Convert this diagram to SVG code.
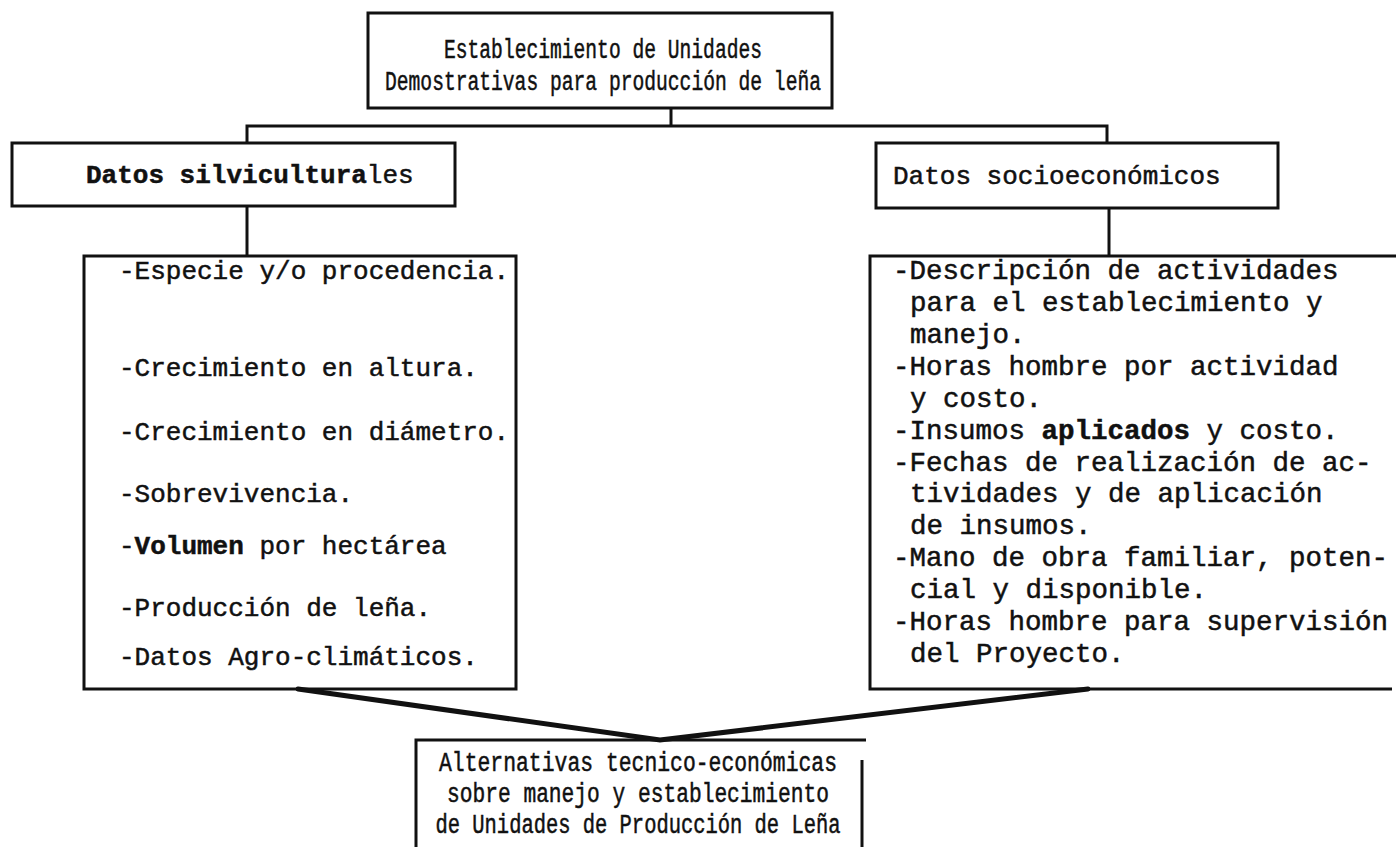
<svg xmlns="http://www.w3.org/2000/svg" width="1396" height="847" viewBox="0 0 1396 847">
<style>
  .box { fill: none; stroke: #111; stroke-width: 3; }
  .conn { fill: none; stroke: #111; stroke-width: 3; }
  .thick { fill: none; stroke: #111; stroke-width: 5; stroke-linecap: round; }
  .t { font-family: "Liberation Mono", "DejaVu Sans Mono", monospace; fill: #111; stroke: #111; stroke-width: 0.5; }
  .cond { font-size: 27px; }
  .lst { font-size: 26px; }
  .lstR { font-size: 27.5px; }
  .b { font-weight: bold; }
</style>
<rect width="1396" height="847" fill="#fff"/>

<g id="connectors">
  <line class="conn" x1="671" y1="108" x2="671" y2="126"/>
  <path class="conn" d="M247 143 L247 126 L1107 126 L1107 143"/>
  <line class="conn" x1="247" y1="206" x2="247" y2="256"/>
  <line class="conn" x1="1109" y1="208" x2="1109" y2="256"/>
  <path class="thick" d="M298 689 L660 740 L1088 689"/>
</g>

<g id="top">
  <rect class="box" x="368" y="13" width="464" height="95"/>
  <text class="t cond" x="603" y="58" text-anchor="middle" textLength="318" lengthAdjust="spacingAndGlyphs">Establecimiento de Unidades</text>
  <text class="t cond" x="603" y="90" text-anchor="middle" textLength="436" lengthAdjust="spacingAndGlyphs">Demostrativas para producción de leña</text>
</g>

<g id="silvi">
  <rect class="box" x="12" y="143" width="443" height="63"/>
  <text class="t lst" x="86" y="183"><tspan class="b">Datos silvicultura</tspan>les</text>
</g>

<g id="socio">
  <rect class="box" x="876" y="143" width="402" height="65"/>
  <text class="t lst" x="893" y="184">Datos socioeconómicos</text>
</g>

<g id="silvi-list">
  <rect class="box" x="84" y="256" width="432" height="433"/>
  <text class="t lst" x="119" y="279">-Especie y/o procedencia.</text>
  <text class="t lst" x="119" y="376">-Crecimiento en altura.</text>
  <text class="t lst" x="119" y="440">-Crecimiento en diámetro.</text>
  <text class="t lst" x="119" y="502">-Sobrevivencia.</text>
  <text class="t lst" x="119" y="554">-<tspan class="b">Volumen</tspan> por hectárea</text>
  <text class="t lst" x="119" y="616">-Producción de leña.</text>
  <text class="t lst" x="119" y="665">-Datos Agro-climáticos.</text>
</g>

<g id="socio-list">
  <path class="box" d="M1396 256 L870 256 L870 689 L1392 689"/>
  <text class="t lstR" x="893" y="279">-Descripción de actividades</text>
  <text class="t lstR" x="910" y="311">para el establecimiento y</text>
  <text class="t lstR" x="910" y="343">manejo.</text>
  <text class="t lstR" x="893" y="375">-Horas hombre por actividad</text>
  <text class="t lstR" x="910" y="407">y costo.</text>
  <text class="t lstR" x="893" y="439">-Insumos <tspan class="b">aplicados</tspan> y costo.</text>
  <text class="t lstR" x="893" y="471">-Fechas de realización de ac-</text>
  <text class="t lstR" x="910" y="502">tividades y de aplicación</text>
  <text class="t lstR" x="910" y="534">de insumos.</text>
  <text class="t lstR" x="893" y="566">-Mano de obra familiar, poten-</text>
  <text class="t lstR" x="910" y="598">cial y disponible.</text>
  <text class="t lstR" x="893" y="630">-Horas hombre para supervisión</text>
  <text class="t lstR" x="910" y="662">del Proyecto.</text>
</g>

<g id="result">
  <path class="box" d="M416 847 L416 740 L866 740"/>
  <line class="box" x1="862" y1="760" x2="862" y2="847"/>
  <text class="t cond" x="638" y="771" text-anchor="middle" textLength="398" lengthAdjust="spacingAndGlyphs">Alternativas tecnico-económicas</text>
  <text class="t cond" x="638" y="802" text-anchor="middle" textLength="382" lengthAdjust="spacingAndGlyphs">sobre manejo y establecimiento</text>
  <text class="t cond" x="638" y="833" text-anchor="middle" textLength="405" lengthAdjust="spacingAndGlyphs">de Unidades de Producción de Leña</text>
</g>
</svg>
